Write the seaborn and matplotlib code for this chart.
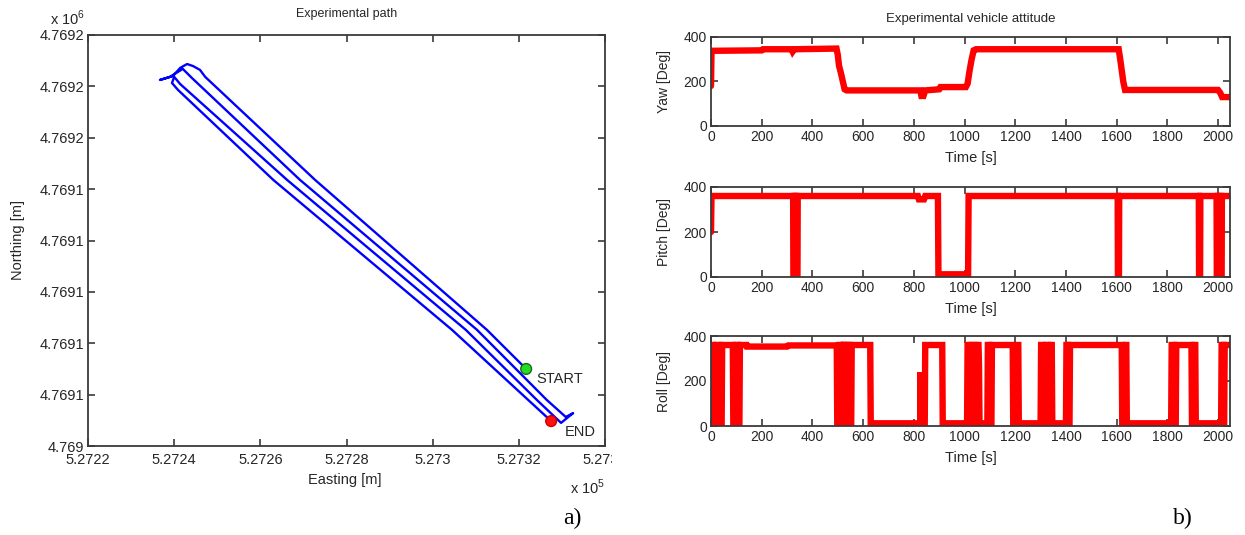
import matplotlib
matplotlib.use("Agg")
import matplotlib.pyplot as plt
import numpy as np
import pandas as pd
import seaborn as sns
from matplotlib.transforms import Bbox, TransformedBbox

# ---------------- data ----------------
# experimental path (metres), in driving order START -> END
path_easting = [527321.7, 527312.6, 527272.7, 527247.2, 527246.0, 527244.4, 527243.0,
                527241.4, 527239.7, 527236.7, 527239.0, 527242.0, 527244.1, 527269.2,
                527310.3, 527326.5, 527330.9, 527332.6, 527330.9, 527329.8, 527324.2,
                527307.7, 527266.2, 527241.4, 527240.0, 527239.5, 527240.9, 527263.0,
                527304.5, 527327.5]
path_northing = [4769070.0, 4769085.2, 4769143.6, 4769183.7, 4769186.4, 4769187.9, 4769188.7,
                 4769187.2, 4769184.0, 4769182.5, 4769183.7, 4769186.8, 4769183.3, 4769143.6,
                 4769085.2, 4769057.9, 4769051.3, 4769052.8, 4769050.5, 4769049.0, 4769057.9,
                 4769085.2, 4769143.6, 4769180.9, 4769183.7, 4769181.3, 4769178.6, 4769143.6,
                 4769085.2, 4769049.7]
marker_labels = ["START", "END"]
marker_easting = [527321.7, 527327.5]
marker_northing = [4769070.0, 4769049.7]

easting_ticks = [527220, 527240, 527260, 527280, 527300, 527320, 527340]
northing_ticks = [4769040, 4769060, 4769080, 4769100, 4769120, 4769140, 4769160, 4769180, 4769200]

yaw_time = [0, 2, 5, 200, 205, 215, 318, 322, 328, 495, 500, 505, 512, 520, 527, 535,
            826, 830, 838, 845, 900, 905, 1005, 1012, 1020, 1028, 1036, 1045, 1608,
            1614, 1620, 1626, 1633, 2000, 2008, 2016, 2047]
yaw_deg = [180, 338, 338, 340, 345, 345, 345, 335, 345, 348, 320, 270, 240, 200, 165, 160,
           160, 135, 135, 160, 165, 175, 175, 190, 250, 300, 340, 345, 345,
           300, 250, 200, 162, 162, 150, 130, 130]

pitch_time = [0, 2, 324, 325, 329, 330, 336, 337, 341, 342, 816, 820, 840, 845, 895, 897,
              1014, 1016, 1604, 1605, 1609, 1610, 1924, 1925, 1929, 1930, 1994, 1995, 1999,
              2000, 2009, 2010, 2014, 2015, 2047]
pitch_deg = [200, 360, 360, 0, 0, 360, 360, 0, 0, 360, 360, 345, 345, 360, 360, 12,
             12, 360, 360, 0, 0, 360, 360, 0, 0, 360, 360, 0, 0,
             360, 360, 0, 0, 360, 360]

roll_time = [0, 3, 10, 12, 20, 22, 33, 35, 42, 44, 86, 88, 96, 98, 106, 108, 112, 114,
             140, 142, 300, 305, 496, 498, 503, 505, 513, 515, 519, 521, 524, 525, 526,
             533, 535, 541, 543, 549, 551, 553, 555, 628, 630, 826, 827, 828, 843, 845, 912,
             914, 1010, 1012, 1020, 1022, 1028, 1030, 1040, 1042, 1046, 1048, 1055, 1057,
             1059, 1090, 1092, 1098, 1100, 1106, 1108, 1190, 1192, 1206, 1208, 1212, 1214,
             1300, 1302, 1310, 1312, 1320, 1322, 1330, 1332, 1338, 1340, 1344, 1346, 1400,
             1402, 1408, 1410, 1414, 1416, 1620, 1622, 1634, 1636, 1638, 1640, 1815, 1817,
             1825, 1827, 1833, 1835, 1895, 1897, 1905, 1907, 1910, 1912, 2012, 2014, 2020,
             2022, 2024, 2026, 2047]
roll_deg = [183, 360, 360, 12, 12, 360, 360, 12, 12, 360, 360, 12, 12, 360, 360, 12, 12, 360,
            360, 353, 353, 358, 358, 12, 12, 360, 360, 12, 12, 360, 360, 270, 360,
            360, 12, 12, 360, 360, 12, 12, 360, 360, 12, 12, 240, 12, 12, 360, 360,
            12, 12, 360, 360, 12, 12, 360, 360, 12, 12, 360, 360, 270,
            12, 12, 360, 360, 12, 12, 360, 360, 12, 12, 360, 360, 12,
            12, 360, 360, 12, 12, 360, 360, 12, 12, 360, 360, 12, 12,
            360, 360, 12, 12, 360, 360, 12, 12, 360, 360, 12, 12, 360,
            360, 12, 12, 360, 360, 12, 12, 360, 360, 12, 12, 360, 360,
            12, 12, 360, 360]

time_ticks = [0, 200, 400, 600, 800, 1000, 1200, 1400, 1600, 1800, 2000]
deg_ticks = [0, 200, 400]

# ---------------- style ----------------
sns.set_theme(style="ticks")
plt.rcParams['font.family'] = ['Liberation Sans', 'DejaVu Sans']
plt.rcParams['mathtext.fontset'] = 'custom'
plt.rcParams['mathtext.rm'] = 'Liberation Sans'
SPINE = '#3a3a3a'
TXT = '#262626'

W, H = 1245, 535
fig = plt.figure(figsize=(W / 100, H / 100), dpi=100)


def px_axes(l, t, r, b):
    return fig.add_axes([l / W, 1 - b / H, (r - l) / W, (b - t) / H])


def style_axes(ax, size):
    for s in ax.spines.values():
        s.set_visible(True)
        s.set_color(SPINE)
        s.set_linewidth(1.3)
    ax.tick_params(direction='in', length=5, width=1.2, color=SPINE, top=True, right=True,
                   labelsize=size, labelcolor=TXT, pad=3)
    ax.grid(False)


# ---------------- left: path ----------------
ax = px_axes(88, 35, 605, 446)
df_path = pd.DataFrame({"Easting": path_easting, "Northing": path_northing})
sns.lineplot(data=df_path, x="Easting", y="Northing", sort=False, estimator=None,
             color="#0000ff", linewidth=1.7, ax=ax)
df_mark = pd.DataFrame({"E": marker_easting, "N": marker_northing, "lab": marker_labels})
sns.scatterplot(data=df_mark, x="E", y="N", hue="lab", palette={"START": "#22dd22", "END": "#ff1010"},
                edgecolor=["#1a6a1a", "#cc0000"], linewidth=1.0, s=60, legend=False, ax=ax, zorder=5)
ax.annotate("START", (marker_easting[0], marker_northing[0]), xytext=(10, -10),
            textcoords="offset pixels", fontsize=10.5, color=TXT, va="center", ha="left")
ax.annotate("END", (marker_easting[1], marker_northing[1]), xytext=(14, -11),
            textcoords="offset pixels", fontsize=10.5, color=TXT, va="center", ha="left")
ax.set_xlim(easting_ticks[0], easting_ticks[-1])
ax.set_ylim(northing_ticks[0], northing_ticks[-1])
ax.set_xticks(easting_ticks)
ax.set_yticks(northing_ticks)
ax.set_xticklabels([f"{v / 1e5:.5g}" for v in easting_ticks])
ax.set_yticklabels([f"{v / 1e6:.5g}" for v in northing_ticks])
style_axes(ax, 10.5)
ax.tick_params(axis='x', pad=5)
ax.set_title("Experimental path", fontsize=9, color=TXT, pad=0, y=1.045)
ax.set_xlabel("Easting [m]", fontsize=10.5, color=TXT, va="center")
ax.set_ylabel("Northing [m]", fontsize=10.5, color=TXT, va="center")
ax.xaxis.set_label_coords(0.497, -0.083)
ax.yaxis.set_label_coords(-0.135, 0.5)
fig.text(50 / W, 1 - 18 / H, r"x 10$^{\mathregular{6}}$", fontsize=10.5, color=TXT, va="center", ha="left")
fig.text(570 / W, 1 - 487 / H, r"x 10$^{\mathregular{5}}$", fontsize=10.5, color=TXT, va="center", ha="left")
# the last easting label is cut by the neighbouring panel in the original
clip = TransformedBbox(Bbox([[0, 0], [612 / W, 1]]), fig.transFigure)
for lab in ax.get_xticklabels():
    lab.set_clip_box(clip)
    lab.set_clip_on(True)

# ---------------- right: attitude ----------------
series = [("Yaw [Deg]", yaw_time, yaw_deg, 37, 126),
          ("Pitch [Deg]", pitch_time, pitch_deg, 187, 277),
          ("Roll [Deg]", roll_time, roll_deg, 336, 426)]
for i, (name, t, v, top, bot) in enumerate(series):
    a = px_axes(711, top, 1230, bot)
    d = pd.DataFrame({"Time [s]": t, name: v})
    sns.lineplot(data=d, x="Time [s]", y=name, sort=False, estimator=None,
                 color="#ff0000", linewidth=4.6, ax=a, solid_joinstyle="miter")
    a.set_xlim(0, 2047)
    a.set_ylim(0, 400)
    a.set_xticks(time_ticks)
    a.set_yticks(deg_ticks)
    style_axes(a, 10)
    a.set_xlabel("Time [s]", fontsize=10.5, color=TXT, va="center")
    a.set_ylabel(name, fontsize=10, color=TXT, va="center")
    a.xaxis.set_label_coords(0.5, -(32 / (bot - top)))
    a.yaxis.set_label_coords(-47 / 519, 0.5)
    if i == 0:
        a.set_title("Experimental vehicle attitude", fontsize=9.5, color=TXT, y=1.17, pad=0)

fig.text(572 / W, 1 - 518 / H, "a)", fontsize=17, family="Liberation Serif", color="black",
         ha="center", va="center")
fig.text(1183 / W, 1 - 518 / H, "b)", fontsize=17, family="Liberation Serif", color="black",
         ha="center", va="center")

fig.savefig("out.png", dpi=100, facecolor="white")
